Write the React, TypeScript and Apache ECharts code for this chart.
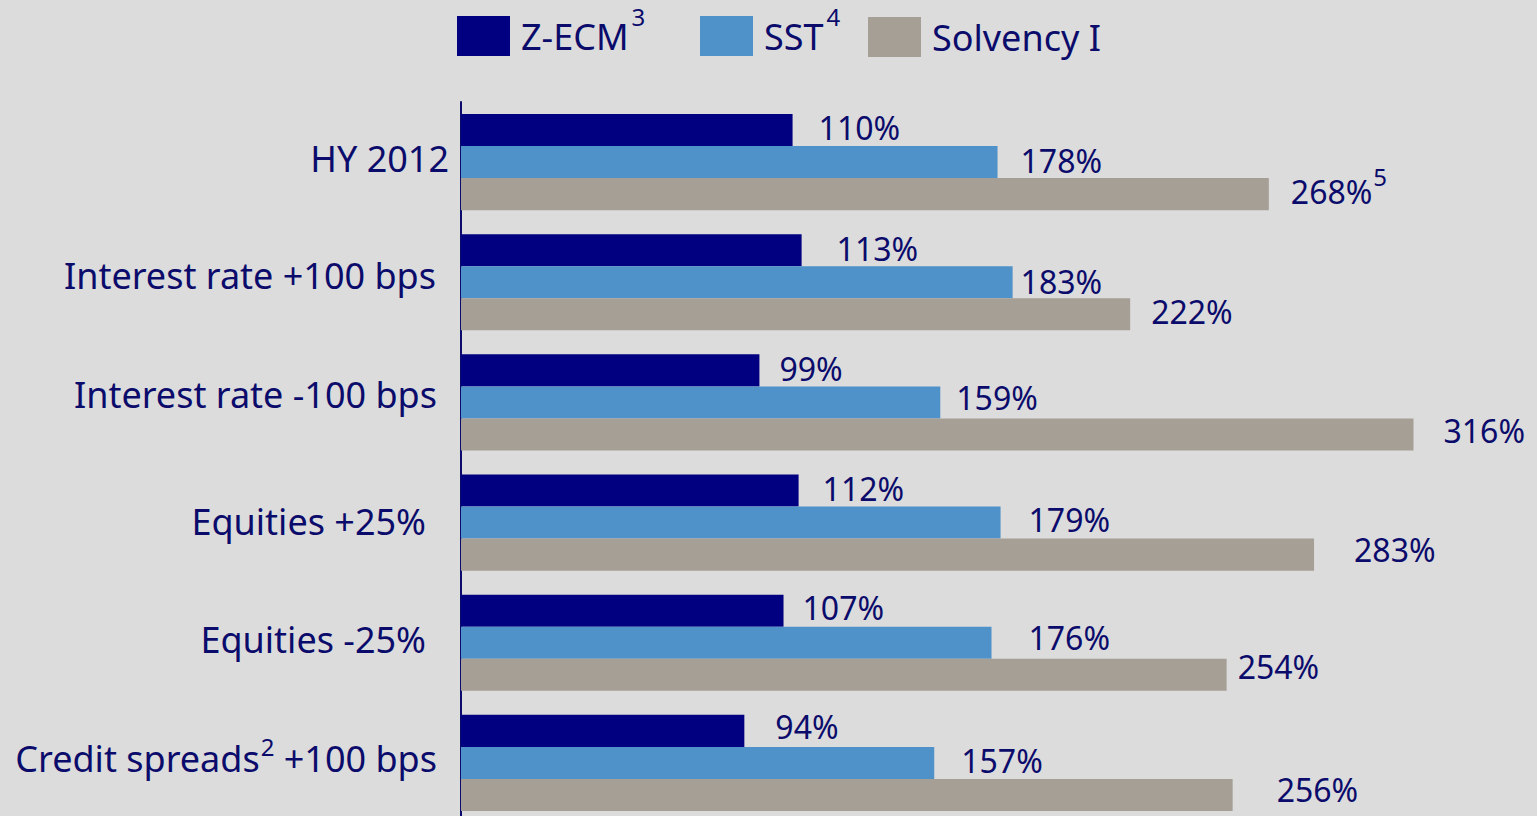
import React, { useEffect, useRef } from "react";
import * as echarts from "echarts";

// ---- data ----
const categories = [
  "HY 2012",
  "Interest rate +100 bps",
  "Interest rate -100 bps",
  "Equities +25%",
  "Equities -25%",
  "Credit spreads² +100 bps",
];
const seriesNames = ["Z-ECM", "SST", "Solvency I"];
const seriesFootnotes = ["3", "4", ""];
const zecmValues = [110, 113, 99, 112, 107, 94];
const sstValues = [178, 183, 159, 179, 176, 157];
const solvencyValues = [268, 222, 316, 283, 254, 256];
const zecmFootnotes = ["", "", "", "", "", ""];
const sstFootnotes = ["", "", "", "", "", ""];
const solvencyFootnotes = ["5", "", "", "", "", ""];
const xMax = 350;

// ---- styles ----
const TEXT = "#0b0b6b";
const FONT = "'Noto Sans', 'Open Sans', sans-serif";
const BG = "#dcdcdc";
const COLORS = ["#000080", "#4f91c9", "#a69f96"];
const legendLeft = [457, 700, 868];
// label nudges [dx, dy] relative to the bar end (style only)
const zecmNudge = [[26, -3], [35, -2], [20, -2], [24, -2], [19, -3], [31, -4]];
const sstNudge = [[23, -2], [8, -1], [16, -5], [28, -3], [37, -5], [27, -2]];
const solvencyNudge = [[22, -3], [21, -3], [30, -4], [40, -5], [11, -8], [44, -5]];
// category label fine-tuning: extra right padding, extra bottom padding (lifts text)
const catPadRight = [0, 13, 12, 23, 23, 12];
const catLift = [8, 14, 16, 3, 6, 9];

const SUPMAP: Record<string, string> = { "²": "2", "³": "3", "⁴": "4", "⁵": "5" };

function catFormatter(value: string, index: number) {
  const parts = value.split(/([²³⁴⁵])/).filter((p) => p !== "");
  return parts
    .map((p, i) => {
      if (SUPMAP[p]) return `{s${index}|${SUPMAP[p]}}`;
      const style = i === parts.length - 1 ? `e${index}` : `c${index}`;
      return `{${style}|${p}}`;
    })
    .join("");
}

export default function App() {
  const ref = useRef<HTMLDivElement>(null);

  useEffect(() => {
    if (!ref.current) return;
    const chart = echarts.init(ref.current, null, { renderer: "svg" });

    const catRich: Record<string, any> = {};
    categories.forEach((_, i) => {
      const pb = catLift[i];
      catRich["c" + i] = {
        fontSize: 36,
        fontFamily: FONT,
        color: TEXT,
        height: 36,
        padding: [0, 0, pb, 0],
        lineHeight: 36 + pb,
      };
      catRich["e" + i] = {
        fontSize: 36,
        fontFamily: FONT,
        color: TEXT,
        height: 36,
        padding: [0, catPadRight[i], pb, 0],
        lineHeight: 36 + pb,
      };
      catRich["s" + i] = {
        fontSize: 24,
        fontFamily: FONT,
        color: TEXT,
        height: 24,
        padding: [0, 0, 23 + pb, 1],
        lineHeight: 47 + pb,
      };
    });

    const valueRich = {
      v: { fontSize: 32, fontFamily: FONT, color: TEXT },
      s: {
        fontSize: 24,
        fontFamily: FONT,
        color: TEXT,
        height: 24,
        padding: [0, 0, 29, 1],
        lineHeight: 53,
      },
    };

    const makeSeries = (
      name: string,
      values: number[],
      notes: string[],
      nudge: number[][],
      color: string
    ) => ({
      name,
      type: "bar",
      barGap: "0%",
      barCategoryGap: "20%",
      itemStyle: { color },
      data: values.map((v, i) => ({
        value: v,
        label: { offset: nudge[i] },
      })),
      label: {
        show: true,
        position: "right",
        distance: 0,
        formatter: (p: any) =>
          `{v|${p.value}%}` + (notes[p.dataIndex] ? `{s|${notes[p.dataIndex]}}` : ""),
        rich: valueRich,
      },
    });

    const legends = seriesNames.map((name, i) => {
      const fn = seriesFootnotes[i];
      return {
        data: [name],
        left: legendLeft[i],
        top: fn ? 3 : 17,
        padding: 0,
        itemWidth: 53,
        itemHeight: 40,
        icon: "rect",
        selectedMode: false,
        formatter: (n: string) => `{n|${n}}` + (fn ? `{s|${fn}}` : ""),
        textStyle: {
          rich: {
            n: {
              fontSize: 36,
              fontFamily: FONT,
              color: TEXT,
              padding: [0, 0, 0, 6],
            },
            s: {
              fontSize: 24,
              fontFamily: FONT,
              color: TEXT,
              height: 26,
              padding: [0, 0, 40, 3],
              lineHeight: 66,
            },
          },
        },
      };
    });

    chart.setOption({
      animation: false,
      backgroundColor: BG,
      textStyle: { fontFamily: FONT },
      legend: legends,
      grid: {
        left: 461,
        top: 102,
        width: 1055,
        height: 721,
        outerBoundsMode: "none",
      },
      xAxis: {
        type: "value",
        min: 0,
        max: xMax,
        show: false,
      },
      yAxis: {
        type: "category",
        inverse: true,
        data: categories,
        axisTick: { show: false },
        axisLine: { show: true, lineStyle: { color: TEXT, width: 2 } },
        axisLabel: {
          margin: 12,
          formatter: catFormatter,
          rich: catRich,
        },
      },
      series: [
        makeSeries(seriesNames[0], zecmValues, zecmFootnotes, zecmNudge, COLORS[0]),
        makeSeries(seriesNames[1], sstValues, sstFootnotes, sstNudge, COLORS[1]),
        makeSeries(seriesNames[2], solvencyValues, solvencyFootnotes, solvencyNudge, COLORS[2]),
      ],
    });

    return () => chart.dispose();
  }, []);

  return (
    <div
      ref={ref}
      style={{
        position: "fixed",
        left: 0,
        top: 0,
        width: 1537,
        height: 830,
        background: BG,
      }}
    />
  );
}
